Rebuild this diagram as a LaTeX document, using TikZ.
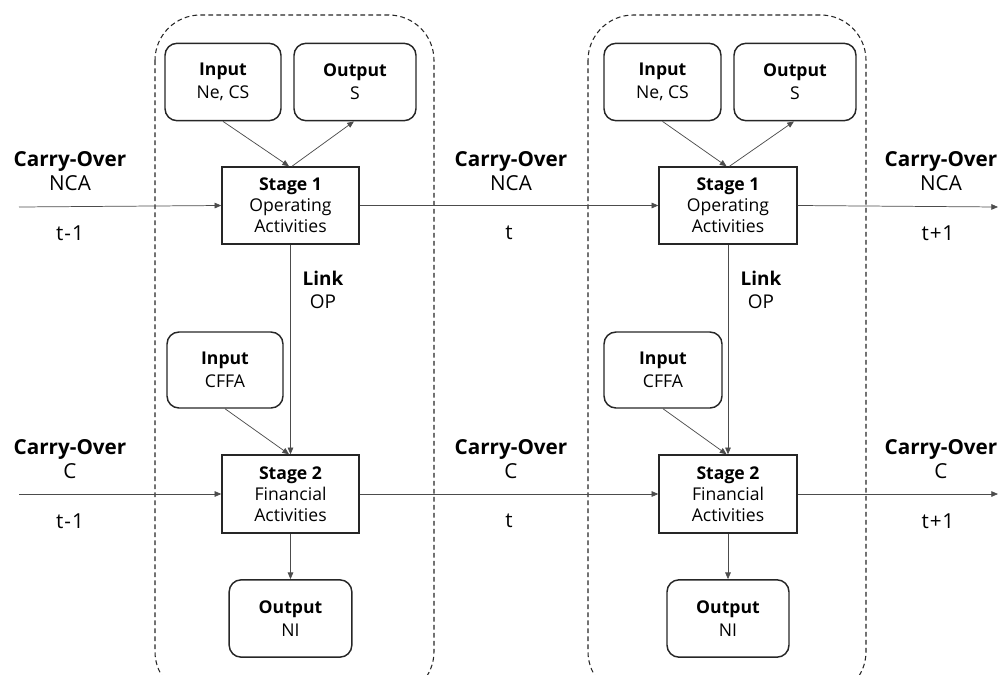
\documentclass[tikz,border=0pt]{standalone}
\usepackage{fontspec}
\setmainfont{Open Sans}
\usetikzlibrary{arrows.meta,calc}

% one drawing unit is 0.75pt; sizes below are given in pt
\tikzset{
  stagebox/.style={draw=black!85, line width=1.1pt, rectangle, minimum width=102.75pt, minimum height=57.75pt,
    align=center, inner sep=0pt, font=\fontsize{13.2}{15.6}\selectfont},
  roundbox/.style={draw=black!85, line width=1.1pt, rectangle, rounded corners=9pt, minimum width=87pt,
    minimum height=58pt, align=center, inner sep=0pt, font=\fontsize{13.2}{17}\selectfont},
  lbl/.style={align=center, inner sep=0pt, font=\fontsize{15.5}{17.5}\selectfont},
  linklbl/.style={align=center, inner sep=0pt, font=\fontsize{14.2}{17.2}\selectfont},
  conn/.style={draw=black!70, line width=0.55pt, -{Triangle[length=5pt,width=4.2pt]}},
  group/.style={draw=black!85, line width=0.8pt, dash pattern=on 3.6pt off 2.4pt, rounded corners=34pt},
}
\newcommand{\tminus}{t\kern0.8pt-\kern0.8pt1}
\newcommand{\tplus}{t\kern0.6pt+\kern0.6pt1}

\begin{document}
\begin{tikzpicture}[x=0.75pt,y=-0.75pt]
  \useasboundingbox (0,0) rectangle (1000,675);

  % dashed period frames, open past the lower edge
  \begin{scope}
    \clip (0,0) rectangle (1000,675);
    \draw[group] (155,15) rectangle (434,697);
    \draw[group] (588,15) rectangle (866,697);
  \end{scope}

  % period t
  \node[roundbox] (inA) at (223,82) {\textbf{Input}\\Ne, CS};
  \node[roundbox, minimum width=91.5pt] (outA) at (355,82) {\textbf{Output}\\S};
  \node[stagebox] (sA) at (290.5,205.5) {\textbf{Stage 1}\\Operating\\Activities};
  \node[roundbox, minimum height=57pt] (cfA) at (225,370) {\textbf{Input}\\CFFA};
  \node[stagebox, minimum height=58.5pt] (tA) at (290.5,494) {\textbf{Stage 2}\\Financial\\Activities};
  \node[roundbox, minimum width=92pt] (niA) at (290.5,618.5) {\textbf{Output}\\NI};
  \node[linklbl] (lkA) at (323,290) {\textbf{Link}\\OP};

  % period t+1
  \node[roundbox, minimum width=87.75pt] (inB) at (662.5,82) {\textbf{Input}\\Ne, CS};
  \node[roundbox, minimum width=91.5pt] (outB) at (795,82) {\textbf{Output}\\S};
  \node[stagebox, minimum width=103.5pt] (sB) at (728,205.5) {\textbf{Stage 1}\\Operating\\Activities};
  \node[roundbox, minimum width=88.5pt, minimum height=57pt] (cfB) at (663,370) {\textbf{Input}\\CFFA};
  \node[stagebox, minimum width=103.5pt, minimum height=58.5pt] (tB) at (728,494) {\textbf{Stage 2}\\Financial\\Activities};
  \node[roundbox, minimum width=91.5pt] (niB) at (728,618.5) {\textbf{Output}\\NI};
  \node[linklbl] (lkB) at (761,290) {\textbf{Link}\\OP};

  % carry-over labels
  \node[lbl] (coA1) at (70,171) {\textbf{Carry-Over}\\NCA};
  \node[lbl] (tmA1) at (70,233) {\tminus};
  \node[lbl] (coB1) at (511,171) {\textbf{Carry-Over}\\NCA};
  \node[lbl] (tmB1) at (509,233) {t};
  \node[lbl] (coC1) at (941,171) {\textbf{Carry-Over}\\NCA};
  \node[lbl] (tmC1) at (938,233) {\tplus};

  \node[lbl] (coA2) at (70,459) {\textbf{Carry-Over}\\C};
  \node[lbl] (tmA2) at (70,521) {\tminus};
  \node[lbl] (coB2) at (511,459) {\textbf{Carry-Over}\\C};
  \node[lbl] (tmB2) at (509,521) {t};
  \node[lbl] (coC2) at (941,459) {\textbf{Carry-Over}\\C};
  \node[lbl] (tmC2) at (938,521) {\tplus};

  % free ends of the carry-over lines
  \coordinate (startA) at (19,207);
  \coordinate (endA) at (998,207);
  \coordinate (startC) at (19,494);
  \coordinate (endC) at (998,494);

  % connectors, period t
  \draw[conn] (inA.south) -- ([xshift=-1.1pt]sA.north);
  \draw[conn] ([xshift=1.1pt]sA.north) -- ([xshift=-0.8pt]outA.south);
  \draw[conn] (sA.south) -- (tA.north);
  \draw[conn] (cfA.south) -- ([xshift=-1.1pt]tA.north);
  \draw[conn] (tA.south) -- (niA.north);

  % connectors, period t+1
  \draw[conn] (inB.south) -- ([xshift=-1.1pt]sB.north);
  \draw[conn] ([xshift=1.1pt]sB.north) -- ([xshift=-0.8pt]outB.south);
  \draw[conn] (sB.south) -- (tB.north);
  \draw[conn] (cfB.south) -- ([xshift=-1.1pt]tB.north);
  \draw[conn] (tB.south) -- (niB.north);

  % carry-over flows
  \draw[conn] (startA) -- (sA.west);
  \draw[conn] (sA.east) -- (sB.west);
  \draw[conn] (sB.east) -- (endA);
  \draw[conn] (startC) -- (tA.west);
  \draw[conn] (tA.east) -- (tB.west);
  \draw[conn] (tB.east) -- (endC);
\end{tikzpicture}
\end{document}
